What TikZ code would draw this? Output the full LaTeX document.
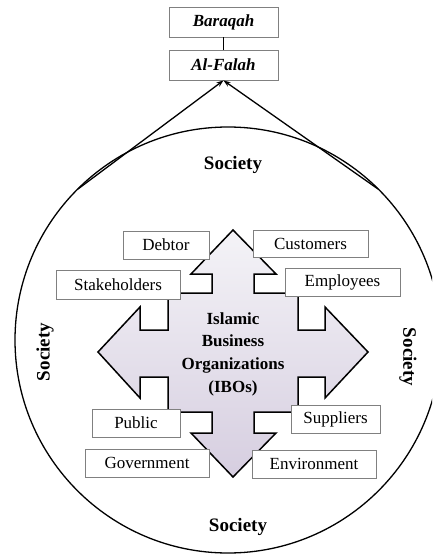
\documentclass[tikz,border=0pt]{standalone}
\usepackage{fontspec}
\setmainfont{Liberation Serif}
\usetikzlibrary{arrows.meta}
\definecolor{boxline}{HTML}{808080}
\definecolor{shtop}{HTML}{F4F3F7}
\definecolor{shbot}{HTML}{D6CEE0}
\tikzset{
  lbox/.style={draw=boxline, line width=0.9pt, fill=white, inner sep=0pt,
    font=\fontsize{17}{20}\selectfont},
  topbox/.style={lbox, minimum width=109pt, minimum height=30pt,
    font=\fontsize{17}{20}\selectfont\bfseries\itshape},
  soc/.style={font=\fontsize{19}{22}\selectfont\bfseries},
  link/.style={line width=1.3pt, -{Stealth[length=7pt,width=5pt]}},
}
\begin{document}
\begin{tikzpicture}[x=1pt,y=-1pt]
\useasboundingbox (0,0) rectangle (432,556);
\clip (0,0) rectangle (432,556);
% circle
\node[draw, line width=1.3pt, circle, minimum size=426pt, inner sep=0pt] (soccircle) at (228,340) {};
\coordinate (tl) at (78,189);
\coordinate (tr) at (378,189);
% top boxes
\node[topbox] (baraqah) at (223.5,22) {Baraqah};
\node[topbox] (falah) at (223.5,65) {Al-Falah};
\draw[line width=0.8pt] (baraqah) -- (falah);
\draw[link] (tl) -- (falah.south);
\draw[link] (tr) -- (falah.south);
% four-way arrow
\draw[line width=1.5pt, line join=miter, top color=shtop, bottom color=shbot]
  (233,230) -- (276,274) -- (254,274) -- (254,293) -- (298,293) -- (298,330)
  -- (325,330) -- (325,307) -- (368,352) -- (325,398) -- (325,377) -- (298,377)
  -- (298,412) -- (254,412) -- (254,433) -- (276,433) -- (233,477) -- (191,433)
  -- (212,433) -- (212,412) -- (168,412) -- (168,377) -- (140,377) -- (140,398)
  -- (98,352) -- (140,307) -- (140,330) -- (168,330) -- (168,293) -- (212,293)
  -- (212,274) -- (191,274) -- cycle;
\node[align=center, font=\fontsize{17}{22.7}\selectfont\bfseries] (ibo) at (233,354)
  {Islamic\\Business\\Organizations\\(IBOs)};
% stakeholder boxes
\node[lbox, minimum width=86pt, minimum height=28pt] (debtor) at (166,245) {Debtor};
\node[lbox, minimum width=115pt, minimum height=27pt] (customers) at (310.5,243.5) {Customers};
\node[lbox, minimum width=124pt, minimum height=29pt] (stake) at (118,284.5) {Stakeholders};
\node[lbox, minimum width=115pt, minimum height=28pt] (employees) at (342.5,282) {Employees};
\node[lbox, minimum width=88pt, minimum height=28pt] (public) at (136,423) {Public};
\node[lbox, minimum width=89pt, minimum height=28pt] (suppliers) at (335.5,419) {Suppliers};
\node[lbox, minimum width=124pt, minimum height=28pt] (gov) at (147,463) {Government};
\node[lbox, minimum width=124pt, minimum height=28pt] (env) at (314,464) {Environment};
% society labels
\node[soc] (stop) at (233,165) {Society};
\node[soc] (sbot) at (238,527) {Society};
\node[soc, rotate=90] (sleft) at (45,352) {Society};
\node[soc, rotate=-90] (sright) at (408,357) {Society};
\end{tikzpicture}
\end{document}
